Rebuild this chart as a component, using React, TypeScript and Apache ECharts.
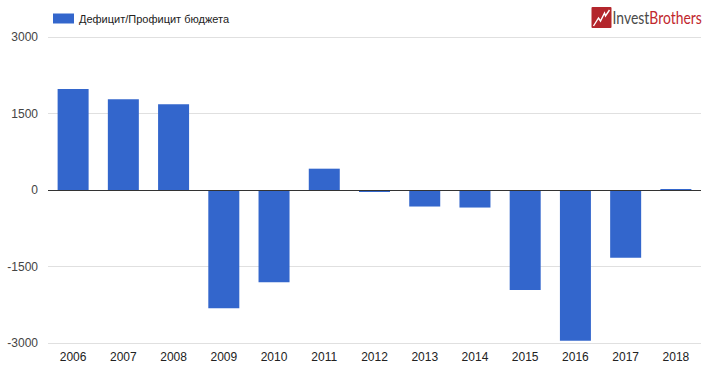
import React, { useEffect, useRef } from "react";
import * as echarts from "echarts";

const years = ["2006", "2007", "2008", "2009", "2010", "2011", "2012", "2013", "2014", "2015", "2016", "2017", "2018"];
const balance = [1980, 1777, 1680, -2317, -1809, 418, -39, -324, -344, -1959, -2955, -1328, 20];
const seriesName = "Дефицит/Профицит бюджета";

const FONT = "Arial, 'Liberation Sans', sans-serif";

export default function App() {
  const ref = useRef<HTMLDivElement>(null);
  useEffect(() => {
    if (!ref.current) return;
    const chart = echarts.init(ref.current, undefined, { renderer: "svg" });
    chart.setOption({
      animation: false,
      backgroundColor: "#ffffff",
      textStyle: { fontFamily: FONT },
      legend: {
        left: 48,
        top: 8,
        itemWidth: 21,
        itemHeight: 10,
        icon: "rect",
        itemGap: 10,
        textStyle: { fontSize: 11, color: "#222", fontFamily: FONT },
        data: [seriesName],
      },
      grid: { left: 48, right: 16, top: 37, bottom: 44, containLabel: false },
      xAxis: {
        type: "category",
        data: years,
        axisLine: { show: false, onZero: false },
        axisTick: { show: false },
        axisLabel: { color: "#222", fontSize: 12, margin: 8, fontFamily: FONT },
        splitLine: { show: false },
      },
      yAxis: {
        type: "value",
        min: -3000,
        max: 3000,
        interval: 1500,
        axisLine: { show: false },
        axisTick: { show: false },
        axisLabel: {
          color: "#444",
          fontSize: 12,
          margin: 10,
          fontFamily: FONT,
          formatter: (v: number) => String(v),
        },
        splitLine: { lineStyle: { color: "#e0e0e0", width: 1 } },
      },
      series: [
        {
          name: seriesName,
          type: "bar",
          data: balance,
          barWidth: 31,
          itemStyle: { color: "#3366cc" },
          markLine: {
            silent: true,
            symbol: "none",
            label: { show: false },
            lineStyle: { color: "#333", type: "solid", width: 1 },
            data: [{ yAxis: 0 }],
          },
        },
      ],
      graphic: [
        {
          type: "group",
          left: 591,
          top: 7,
          children: [
            {
              type: "rect",
              shape: { x: 0, y: 0, width: 20, height: 21, r: 1 },
              style: { fill: "#b3262c" },
            },
            {
              type: "polyline",
              shape: { points: [[2, 19], [7, 11], [9, 14], [13, 6], [14, 9], [18, 3]] },
              style: { stroke: "#ffffff", lineWidth: 1.4, fill: "none" },
            },
            {
              type: "text",
              x: 21,
              y: 2,
              scaleX: 0.82,
              style: {
                text: "{a|Invest}{b|Brothers}",
                rich: {
                  a: { fill: "#4a4a4a", fontSize: 17, fontFamily: "Lato, 'Open Sans', sans-serif" },
                  b: { fill: "#c1272d", fontSize: 17, fontFamily: "Lato, 'Open Sans', sans-serif" },
                },
              },
            },
          ],
        },
      ],
    });
    return () => chart.dispose();
  }, []);
  return <div ref={ref} style={{ position: "fixed", left: 0, top: 0, width: 717, height: 387 }} />;
}
